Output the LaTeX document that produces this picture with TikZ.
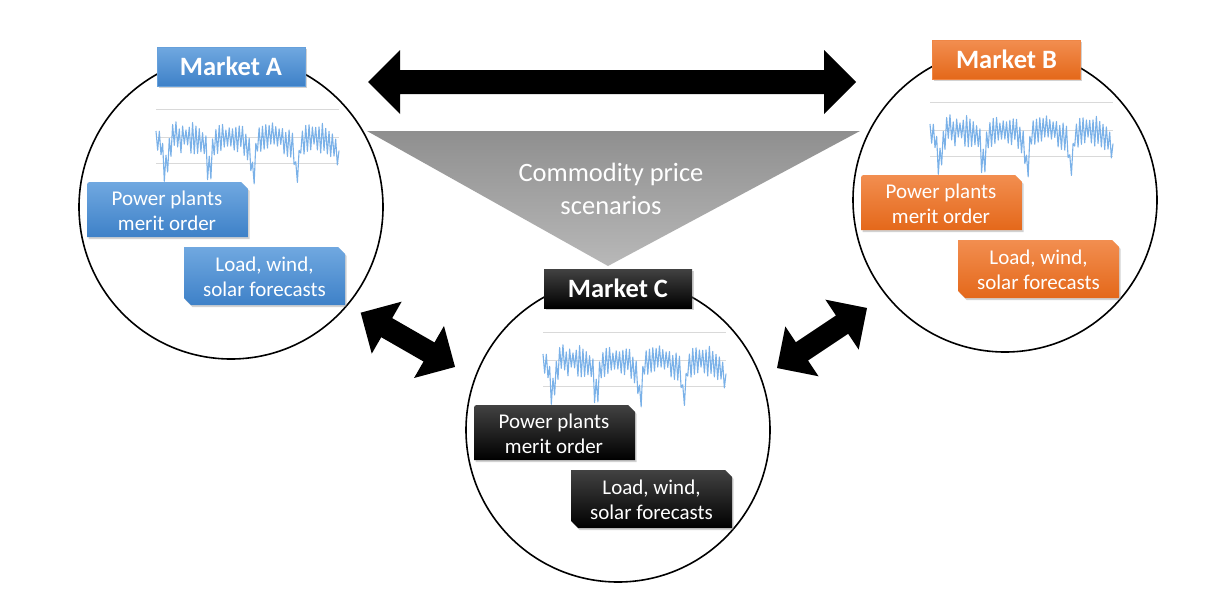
\documentclass[tikz,border=0pt]{standalone}
\usepackage{fontspec}
\setmainfont{Carlito}
\usetikzlibrary{shadows}
\definecolor{blueT}{RGB}{112,168,224}
\definecolor{blueB}{RGB}{62,129,200}
\definecolor{orT}{RGB}{242,142,80}
\definecolor{orB}{RGB}{228,104,26}
\definecolor{blkT}{RGB}{66,66,66}
\definecolor{blkB}{RGB}{0,0,0}
\definecolor{chartblue}{RGB}{122,177,232}
\definecolor{gridgray}{RGB}{217,217,217}
\definecolor{triT}{RGB}{143,143,143}
\definecolor{triB}{RGB}{184,184,184}
\tikzset{
  mcircle/.style={circle,draw=black,line width=1.6pt,minimum size=304pt,inner sep=0pt},
  mlabel/.style={rectangle,minimum width=148pt,minimum height=39pt,inner sep=0pt,
     text=white,font=\fontsize{26.5}{30}\selectfont\bfseries,
     drop shadow={shadow xshift=1.5pt,shadow yshift=-2pt,opacity=0.35}},
  boxtext/.style={align=center,text=white,inner sep=0pt,font=\fontsize{21}{24.5}\selectfont},
  boxshadow/.style={drop shadow={shadow xshift=1.5pt,shadow yshift=-2pt,opacity=0.35}},
  gridline/.style={draw=gridgray,line width=0.9pt},
  chartline/.style={draw=chartblue,line width=1.1pt,line join=round},
  declare function={
    chph(\t)=mod(\t*1.66364+11.85,43.7)-21.85;
    chq(\t)=(chph(\t)/2.8)*(chph(\t)/2.8);
    chr(\t)=((chph(\t)+6)/4)*((chph(\t)+6)/4);
    chdip(\t)=30/(1+chq(\t)*chq(\t))+8/(1+chr(\t));
    chy(\t)=ifthenelse(mod(round(\t),2)==0,-86+9*rnd,-64+10*rnd)+chdip(\t);
  }
}
\newcommand{\dblarrow}[6]{%
  \fill[black,shift={(#1,#2)},rotate=#3] (0,0) -- (#5,#5) -- (#5,#6) -- ({#4-#5},#6) -- ({#4-#5},#5)
    -- (#4,0) -- ({#4-#5},-#5) -- ({#4-#5},-#6) -- (#5,-#6) -- (#5,-#5) -- cycle;}
\newcommand{\mktinner}[3]{%
  \begin{scope}[shift={(#1.center)}]
    \draw[gridline] (-75,-98) -- (108,-98);
    \draw[gridline] (-75,-70) -- (108,-70);
    \draw[gridline] (-75,-44) -- (108,-44);
    \pgfmathsetseed{17}
    \draw[chartline] plot[domain=0:110,samples=111] ({-75+\x*1.66364},{chy(\x)});
    \shade[boxshadow,top color=#2,bottom color=#3] (-144,30) -- (-144,-19) .. controls (-144,-25) .. (-138,-25)
      -- (10,-25) -- (17,-18) -- (17,30) -- cycle;
    \node[boxtext] (#1pp) at (-64,4) {Power plants\\merit order};
    \shade[boxshadow,top color=#2,bottom color=#3] (-47,40) -- (107,40) -- (114,47) -- (114,98)
      -- (-40,98) -- (-47,91) -- cycle;
    \node[boxtext] (#1lw) at (33.5,70) {Load, wind,\\solar forecasts};
  \end{scope}}
\begin{document}
\begin{tikzpicture}[x=1pt,y=-1pt]
\useasboundingbox[fill=white] (0,0) rectangle (1212,597);
% circles
\node[mcircle] (A) at (231,207) {};
\node[mcircle] (B) at (1005,200) {};
\node[mcircle] (C) at (618,430) {};
% commodity triangle
\shade[top color=triT,bottom color=triB] (367,131) -- (860,131) -- (608,266) -- cycle;
\node[text=white,align=center,inner sep=0pt,font=\fontsize{26.5}{33}\selectfont] (comm) at (611,189) {Commodity price\\scenarios};
% arrows
\dblarrow{368}{82}{0}{488}{32}{12}
\dblarrow{360.7}{312.7}{-29.9}{108.8}{30}{11}
\dblarrow{777}{368}{33.7}{108.2}{30}{11}
% market contents
\mktinner{A}{blueT}{blueB}
\mktinner{B}{orT}{orB}
\mktinner{C}{blkT}{blkB}
% market labels
\node[mlabel,top color=blueT,bottom color=blueB,draw=blueT!80!blueB,line width=0.6pt] (labA) at (231,66.5) {Market A};
\node[mlabel,top color=orT,bottom color=orB,draw=orT!80!orB,line width=0.6pt] (labB) at (1006.5,59.5) {Market B};
\node[mlabel,top color=blkT,bottom color=blkB] (labC) at (618,288.5) {Market C};
\end{tikzpicture}
\end{document}
